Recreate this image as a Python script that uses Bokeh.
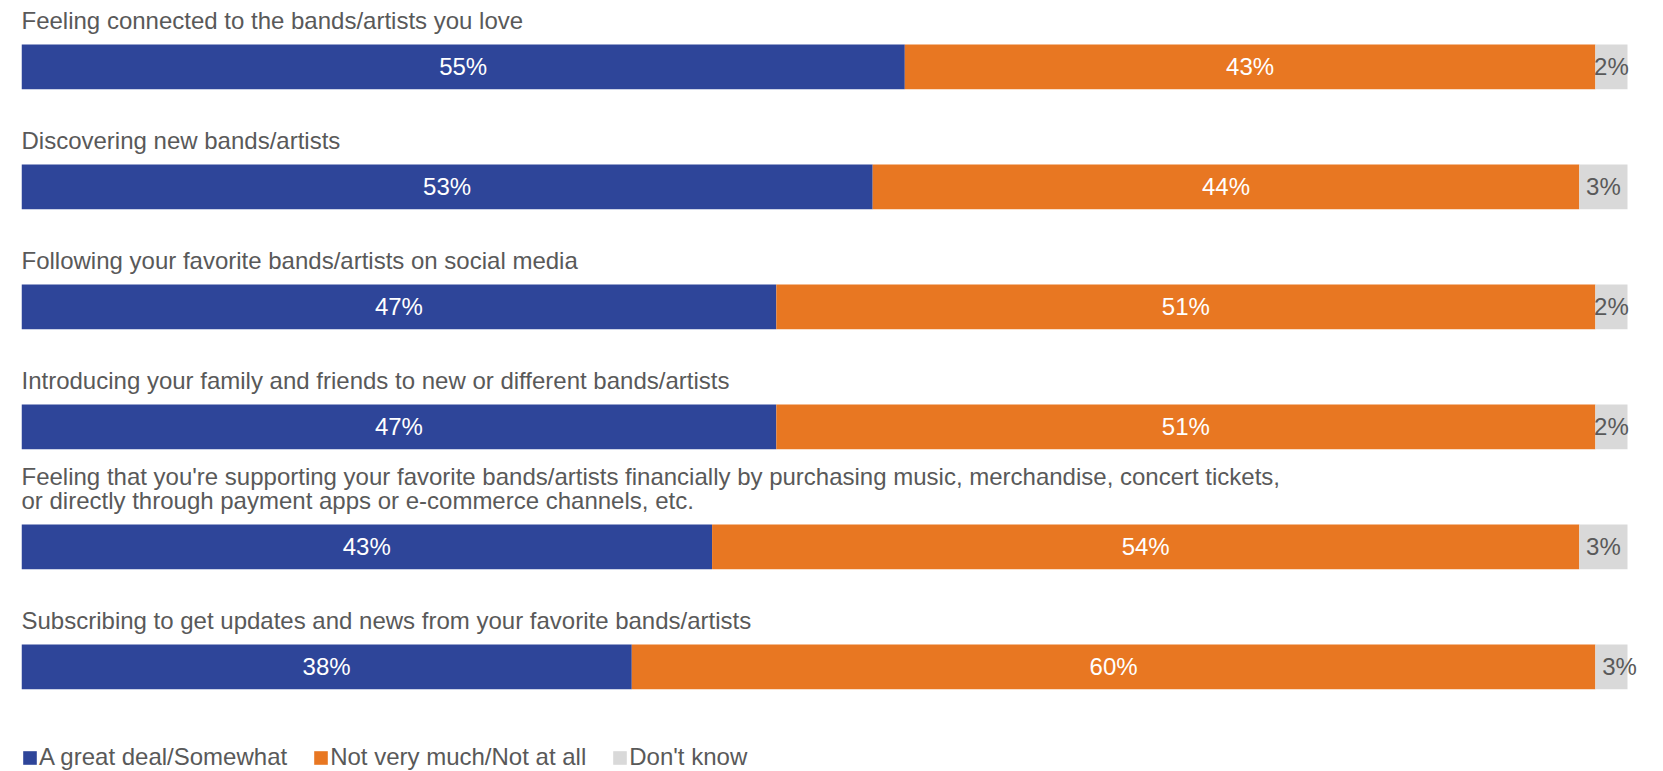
from bokeh.plotting import figure
from bokeh.models import Range1d, ColumnDataSource, Legend, LegendItem, LabelSet
from bokeh.core.properties import value
from bokeh.embed import file_html
from bokeh.resources import INLINE

categories = [
    "Feeling connected to the bands/artists you love",
    "Discovering new bands/artists",
    "Following your favorite bands/artists on social media",
    "Introducing your family and friends to new or different bands/artists",
    "Feeling that you're supporting your favorite bands/artists financially by purchasing music, merchandise, concert tickets,\nor directly through payment apps or e-commerce channels, etc.",
    "Subscribing to get updates and news from your favorite bands/artists",
]
great_deal = [55, 53, 47, 47, 43, 38]
not_much = [43, 44, 51, 51, 54, 60]
dont_know = [2, 3, 2, 2, 3, 3]
series_names = ["A great deal/Somewhat", "Not very much/Not at all", "Don't know"]
colors = ["#2E4599", "#E87722", "#D9D9D9"]
label_colors = ["#FFFFFF", "#FFFFFF", "#595959"]
TEXT = "#595959"
FONT = "Liberation Sans"
FS = "24px"

W, H = 1663, 771
LEFT_PX, BAR_PX = 21, 1606          # frame starts at 21px, 100% spans 1606px
ROW0, ROW_STEP, BAR_H = 66.4, 120, 44.7
AXIS_MAX = 100.0

n = len(categories)
rows = [ROW0 + i * ROW_STEP for i in range(n)]
series = [great_deal, not_much, dont_know]

# stacked segment edges, capped at the 100% axis end
lefts, rights = [], []
for k in range(3):
    l_k, r_k = [], []
    for i in range(n):
        start = sum(series[j][i] for j in range(k))
        end = start + series[k][i]
        l_k.append(min(start, AXIS_MAX))
        r_k.append(min(end, AXIS_MAX))
    lefts.append(l_k)
    rights.append(r_k)

x_end = AXIS_MAX * (W - LEFT_PX) / BAR_PX
p = figure(width=W, height=H, x_range=Range1d(0, x_end), y_range=Range1d(H, 0),
           output_backend="svg", toolbar_location=None,
           min_border_left=LEFT_PX, min_border_right=0, min_border_top=0, min_border_bottom=0,
           x_axis_location=None, y_axis_location=None)
p.outline_line_color = None
p.xgrid.visible = False
p.ygrid.visible = False
p.background_fill_color = "white"

rends = []
for k in range(3):
    r = p.hbar(y=rows, left=lefts[k], right=rights[k], height=BAR_H,
               fill_color=colors[k], line_color=None)
    rends.append(r)

# percentage labels (centered on each uncapped segment)
lx, ly, lt, lc = [], [], [], []
for i in range(n):
    left = 0.0
    for k in range(3):
        w = series[k][i]
        lx.append(left + w / 2)
        ly.append(rows[i])
        lt.append(f"{w}%")
        lc.append(label_colors[k])
        left += w
pct_src = ColumnDataSource(dict(x=lx, y=ly, t=lt, c=lc))
p.add_layout(LabelSet(x="x", y="y", text="t", text_color="c", source=pct_src,
                      text_align="center", text_baseline="middle",
                      text_font=value(FONT), text_font_size=FS))

# category labels above bars
p.text(x=[0] * n, y=[r - BAR_H / 2 - 11 for r in rows], text=categories,
       text_color=TEXT, text_align="left", text_baseline="bottom",
       text_font=value(FONT), text_font_size=FS, text_line_height=0.86)

legend = Legend(items=[LegendItem(label=series_names[k], renderers=[rends[k]]) for k in range(3)],
                orientation="horizontal", location=(0, 0), padding=0, margin=0,
                spacing=25, glyph_width=17, glyph_height=17, label_standoff=1,
                label_text_font=FONT, label_text_font_size=FS, label_text_color=TEXT,
                border_line_color=None, background_fill_alpha=0)
p.add_layout(legend)

open("out.html", "w").write(file_html(p, INLINE))
